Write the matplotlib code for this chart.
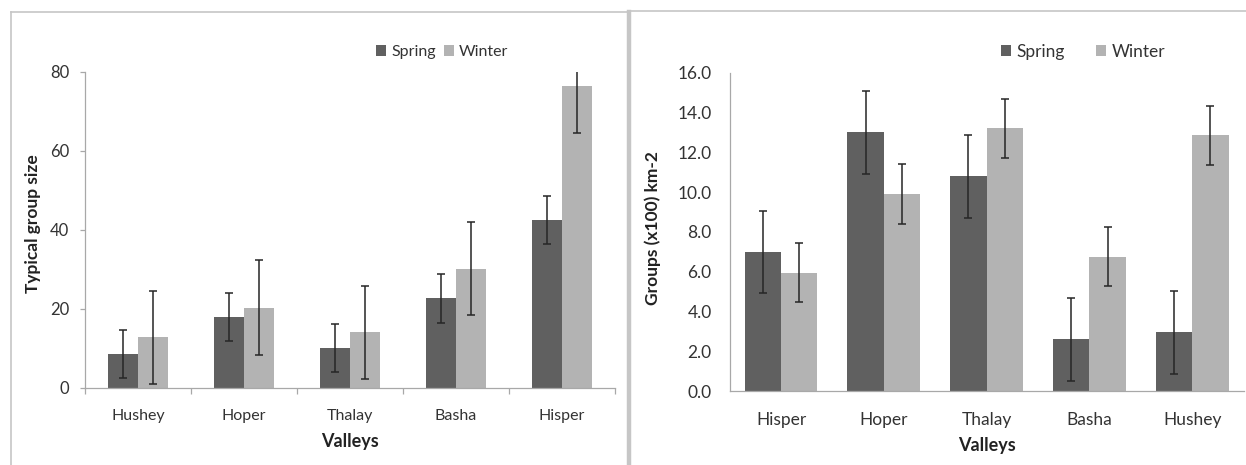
import numpy as np
import matplotlib
matplotlib.use('Agg')
import matplotlib.pyplot as plt
from matplotlib.lines import Line2D
from matplotlib.ticker import FormatStrFormatter

plt.rcParams['font.family'] = ['Lato', 'DejaVu Sans']

# left panel - typical group size
valleys_l = ['Hushey', 'Hoper', 'Thalay', 'Basha', 'Hisper']
size_spring = [8.6, 17.9, 10.1, 22.7, 42.5]
size_spring_err = [6.1, 6.1, 6.1, 6.2, 6.1]
size_winter = [12.8, 20.3, 14.1, 30.2, 76.4]
size_winter_err = [11.8, 12.0, 11.8, 11.8, 11.8]

# right panel - group density
valleys_r = ['Hisper', 'Hoper', 'Thalay', 'Basha', 'Hushey']
dens_spring = [7.0, 13.0, 10.8, 2.6, 2.95]
dens_spring_err = [2.07, 2.08, 2.08, 2.08, 2.08]
dens_winter = [5.95, 9.9, 13.2, 6.75, 12.85]
dens_winter_err = [1.47, 1.49, 1.47, 1.47, 1.48]

dark = '#606060'
light = '#b3b3b3'
ecol = '#262626'
spine_col = '#a8a8a8'
txt = '#333333'

W, H = 1246, 465
fig = plt.figure(figsize=(W / 100, H / 100), dpi=100)

# panel borders
border = '#c6c6c6'
fig.add_artist(Line2D([11 / W, 11 / W], [0, 1 - 12 / H], color=border, lw=1.2))
fig.add_artist(Line2D([11 / W, 629 / W], [1 - 12 / H, 1 - 12 / H], color=border, lw=1.2))
fig.add_artist(Line2D([629 / W, 629 / W], [0, 1 - 12 / H], color=border, lw=3.2))
fig.add_artist(Line2D([631 / W, 1], [1 - 11 / H, 1 - 11 / H], color=border, lw=1.2))

err_kw = dict(ecolor=ecol, elinewidth=1.1, capsize=3, capthick=1.1)

# ---- left chart
ax1 = fig.add_axes([85 / W, 1 - 388 / H, 530 / W, 316.3 / H])
x = np.arange(len(valleys_l))
bw = 0.285
ax1.bar(x - bw / 2, size_spring, bw, color=dark, yerr=size_spring_err, error_kw=err_kw, label='Spring')
ax1.bar(x + bw / 2, size_winter, bw, color=light, yerr=size_winter_err, error_kw=err_kw, label='Winter')
ax1.set_xlim(-0.5, 4.5)
ax1.set_ylim(0, 80)
ax1.set_yticks([0, 20, 40, 60, 80])
ax1.set_xticks(x)
ax1.set_xticklabels(valleys_l)
ax1.set_xticks(np.arange(-0.5, 5, 1), minor=True)
ax1.tick_params(axis='x', which='major', length=0, pad=15, labelsize=11.5, labelcolor=txt)
ax1.tick_params(axis='x', which='minor', length=4, width=0.9, color=spine_col, direction='out')
ax1.tick_params(axis='y', length=3.5, width=0.9, color=spine_col, pad=8, labelsize=12, labelcolor=txt)
for s in ['top', 'right']:
    ax1.spines[s].set_visible(False)
for s in ['left', 'bottom']:
    ax1.spines[s].set_color(spine_col)
    ax1.spines[s].set_linewidth(0.9)
ax1.set_ylabel('Typical group size', fontsize=12.5, fontweight='bold', color='#222222')
ax1.yaxis.set_label_coords(-0.083, 0.52)
ax1.set_xlabel('Valleys', fontsize=13, fontweight='bold', color='#222222')
ax1.xaxis.set_label_coords(0.5, -0.142)
ax1.legend(loc='center', bbox_to_anchor=(442 / W, 1 - 52 / H), bbox_transform=fig.transFigure,
           ncol=2, frameon=False, fontsize=11.5, handlelength=0.65, handleheight=0.65,
           handletextpad=0.3, columnspacing=0.5, labelcolor=txt)

# ---- right chart
ax2 = fig.add_axes([729.6 / W, 1 - 391 / H, 514 / W, 318.3 / H])
x = np.arange(len(valleys_r))
bw = 0.355
ax2.bar(x - bw / 2, dens_spring, bw, color=dark, yerr=dens_spring_err, error_kw=err_kw, label='Spring')
ax2.bar(x + bw / 2, dens_winter, bw, color=light, yerr=dens_winter_err, error_kw=err_kw, label='Winter')
ax2.set_xlim(-0.5, 4.5)
ax2.set_ylim(0, 16)
ax2.set_yticks(np.arange(0, 17, 2))
ax2.yaxis.set_major_formatter(FormatStrFormatter('%.1f'))
ax2.set_xticks(x)
ax2.set_xticklabels(valleys_r)
ax2.tick_params(axis='x', length=0, pad=15, labelsize=12.5, labelcolor=txt)
ax2.tick_params(axis='y', length=0, pad=13, labelsize=12.5, labelcolor=txt)
for s in ['top', 'right']:
    ax2.spines[s].set_visible(False)
for s in ['left', 'bottom']:
    ax2.spines[s].set_color(spine_col)
    ax2.spines[s].set_linewidth(0.9)
ax2.set_ylabel('Groups (x100) km-2', fontsize=12.5, fontweight='bold', color='#222222')
ax2.yaxis.set_label_coords(-0.1335, 0.5105)
ax2.set_xlabel('Valleys', fontsize=13, fontweight='bold', color='#222222')
ax2.xaxis.set_label_coords(0.5, -0.1445)
ax2.legend(loc='center', bbox_to_anchor=(1083 / W, 1 - 52 / H), bbox_transform=fig.transFigure,
           ncol=2, frameon=False, fontsize=12.5, handlelength=0.6, handleheight=0.6,
           handletextpad=0.3, columnspacing=1.8, labelcolor=txt)

fig.savefig('out.png', dpi=100)
